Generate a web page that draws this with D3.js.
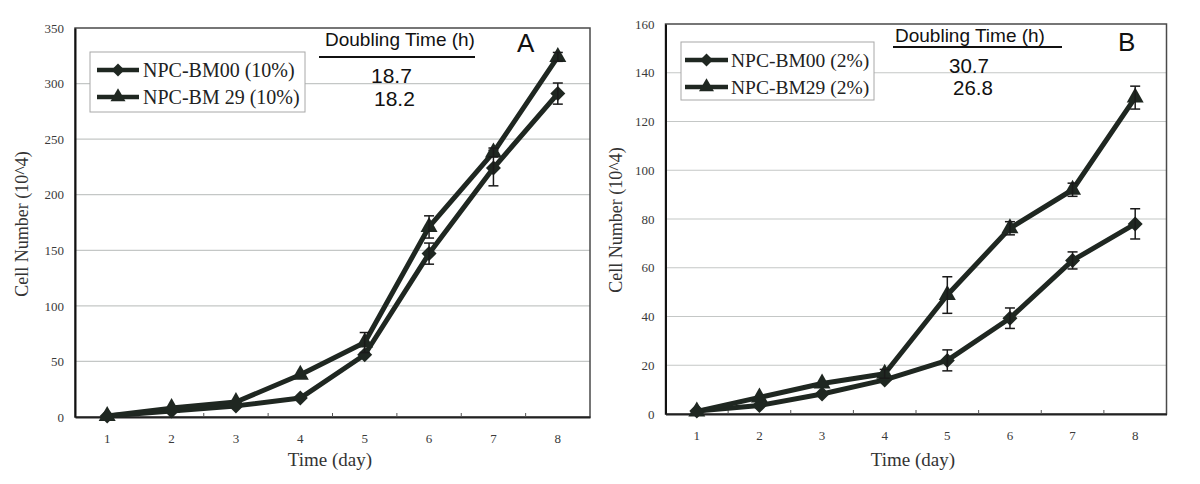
<!DOCTYPE html>
<html>
<head>
<meta charset="utf-8">
<script src="https://cdn.jsdelivr.net/npm/d3@7"></script>
<style>
  html, body { margin: 0; padding: 0; background: #fff; }
  svg { display: block; }
</style>
</head>
<body>
<svg id="chart" width="1200" height="484"></svg>
<script>
// ---------- DATA ----------
const days = [1, 2, 3, 4, 5, 6, 7, 8];

// Panel A (10%)
const aBM00 = [1, 5.5, 10, 17, 56, 147, 224, 291];
const aBM00Err = [0.5, 1, 1, 1.5, 2, 9.5, 16, 9.5];
const aBM29 = [1, 8, 13.5, 38, 67, 171, 238, 324];
const aBM29Err = [0.5, 1, 1.5, 2, 9, 10, 4, 4];
const aYTicks = [0, 50, 100, 150, 200, 250, 300, 350];
const aLegend = ["NPC-BM00 (10%)", "NPC-BM 29 (10%)"];
const aDoubling = ["18.7", "18.2"];

// Panel B (2%)
const bBM00 = [1.2, 3.5, 8.2, 14, 22, 39.3, 63, 78];
const bBM00Err = [0.3, 0.5, 1, 1, 4.3, 4.2, 3.5, 6.2];
const bBM29 = [1, 6.8, 12.5, 16.5, 48.8, 76.2, 92, 129.8];
const bBM29Err = [0.3, 0.8, 1, 1.8, 7.5, 2.7, 2.7, 4.7];
const bYTicks = [0, 20, 40, 60, 80, 100, 120, 140, 160];
const bLegend = ["NPC-BM00 (2%)", "NPC-BM29 (2%)"];
const bDoubling = ["30.7", "26.8"];

const xTitle = "Time (day)";
const yTitle = "Cell Number (10^4)";
const doublingTitle = "Doubling Time (h)";

// ---------- DRAW ----------
const svg = d3.select("#chart");
const INK = "#1f2721";
const SERIF = "'Liberation Serif', 'Times New Roman', serif";
const SANS = "'Liberation Sans', Arial, sans-serif";

function diamondPath(r) {
  return `M0,${-r}L${r},0L0,${r}L${-r},0Z`;
}
function trianglePath(w, h) {
  // centroid at origin
  return `M0,${-h * 2 / 3}L${w / 2},${h / 3}L${-w / 2},${h / 3}Z`;
}

function drawPanel(p) {
  const g = svg.append("g");
  const x = d3.scaleBand().domain(days).range([p.left, p.right]);
  const y = d3.scaleLinear().domain([0, p.yMax]).range([p.bottom, p.top]);
  const cx = d => x(d) + x.bandwidth() / 2;

  // gridlines
  g.append("g").selectAll("line").data(p.yTicks.filter(t => t > 0 && t < p.yMax)).join("line")
    .attr("x1", p.left).attr("x2", p.right)
    .attr("y1", d => y(d)).attr("y2", d => y(d))
    .attr("stroke", "#c4c7c6").attr("stroke-width", 1.2);

  // frame
  g.append("rect")
    .attr("x", p.left).attr("y", p.top)
    .attr("width", p.right - p.left).attr("height", p.bottom - p.top)
    .attr("fill", "none").attr("stroke", "#4a4a4a").attr("stroke-width", 1.5);

  // left axis
  const yAxis = d3.axisLeft(y).tickValues(p.yTicks).tickSize(0).tickPadding(11);
  const ya = g.append("g").attr("transform", `translate(${p.left},0)`).call(yAxis);
  ya.select(".domain").attr("stroke", "#111").attr("stroke-width", 2);
  ya.selectAll("text").attr("font-family", SERIF).attr("font-size", 13).attr("fill", "#3a3a3a");

  // bottom axis
  const xAxis = d3.axisBottom(x).tickSize(0).tickPadding(17);
  const xa = g.append("g").attr("transform", `translate(0,${p.bottom})`).call(xAxis);
  xa.select(".domain").attr("stroke", "#222").attr("stroke-width", 2);
  xa.selectAll("text").attr("font-family", SERIF).attr("font-size", 13).attr("fill", "#3a3a3a");
  // inside tick marks at band boundaries
  g.append("g").selectAll("line").data(days.slice(1)).join("line")
    .attr("x1", d => x(d)).attr("x2", d => x(d))
    .attr("y1", p.bottom).attr("y2", p.bottom - 4)
    .attr("stroke", "#555").attr("stroke-width", 1);

  // axis titles
  g.append("text").attr("x", p.xTitleX).attr("y", p.xTitleY)
    .attr("text-anchor", "middle").attr("font-family", SERIF).attr("font-size", 19)
    .attr("fill", "#333").text(xTitle);
  g.append("text")
    .attr("transform", `translate(${p.yTitleX},${p.yTitleY}) rotate(-90)`)
    .attr("text-anchor", "middle").attr("font-family", SERIF).attr("font-size", 18)
    .attr("fill", "#333").text(yTitle);

  const line = d3.line().x((d, i) => cx(days[i])).y(d => y(d));

  p.series.forEach(s => {
    g.append("path").datum(s.values).attr("d", line)
      .attr("fill", "none").attr("stroke", INK).attr("stroke-width", 5)
      .attr("stroke-linejoin", "round");
  });

  p.series.forEach(s => {
    // markers
    g.append("g").selectAll("path").data(s.values).join("path")
      .attr("transform", (d, i) => `translate(${cx(days[i])},${y(d)})`)
      .attr("d", s.shape === "diamond" ? diamondPath(7.5) : trianglePath(17, 15))
      .attr("fill", INK);
    // error bars
    const eb = g.append("g").attr("stroke", "#1a1a1a").attr("stroke-width", 1.5);
    s.values.forEach((v, i) => {
      const e = s.err[i];
      if (e < 1.5 * (p.yMax / 160)) return;
      const xx = cx(days[i]);
      eb.append("line").attr("x1", xx).attr("x2", xx).attr("y1", y(v - e)).attr("y2", y(v + e));
      eb.append("line").attr("x1", xx - 5).attr("x2", xx + 5).attr("y1", y(v - e)).attr("y2", y(v - e));
      eb.append("line").attr("x1", xx - 5).attr("x2", xx + 5).attr("y1", y(v + e)).attr("y2", y(v + e));
    });
  });

  // legend
  const L = p.legend;
  g.append("rect").attr("x", L.x).attr("y", L.y).attr("width", L.w).attr("height", L.h)
    .attr("fill", "#fff").attr("stroke", "#a8a8a8").attr("stroke-width", 1);
  p.series.forEach((s, i) => {
    const ly = L.rowY[i];
    g.append("line").attr("x1", L.lineX0).attr("x2", L.lineX1).attr("y1", ly).attr("y2", ly)
      .attr("stroke", INK).attr("stroke-width", 4.5);
    g.append("path")
      .attr("transform", `translate(${(L.lineX0 + L.lineX1) / 2},${ly})`)
      .attr("d", s.shape === "diamond" ? diamondPath(6.5) : trianglePath(15, 13))
      .attr("fill", INK);
    g.append("text").attr("x", L.textX).attr("y", ly + 7)
      .attr("font-family", SERIF).attr("font-size", L.fontSize).attr("fill", "#222")
      .text(s.name);
  });

  // doubling time annotation
  const D = p.doubling;
  g.append("text").attr("x", D.titleX).attr("y", D.titleY)
    .attr("font-family", SANS).attr("font-size", 19).attr("fill", "#111").text(doublingTitle);
  g.append("line").attr("x1", D.ulX0).attr("x2", D.ulX1).attr("y1", D.ulY).attr("y2", D.ulY)
    .attr("stroke", "#111").attr("stroke-width", 1.8);
  D.values.forEach((v, i) => {
    g.append("text").attr("x", D.valX[i]).attr("y", D.valY[i])
      .attr("font-family", SANS).attr("font-size", D.valSize).attr("fill", "#111").text(v);
  });
  g.append("text").attr("x", D.letterX).attr("y", D.letterY)
    .attr("font-family", SANS).attr("font-size", 26).attr("fill", "#111").text(D.letter);
}

drawPanel({
  left: 75, right: 590, top: 28, bottom: 417, yMax: 350, yTicks: aYTicks,
  xTitleX: 330, xTitleY: 466, yTitleX: 28, yTitleY: 224,
  series: [
    { name: aLegend[0], values: aBM00, err: aBM00Err, shape: "diamond" },
    { name: aLegend[1], values: aBM29, err: aBM29Err, shape: "triangle" }
  ],
  legend: { x: 90, y: 52, w: 215, h: 60, rowY: [70, 97], lineX0: 97, lineX1: 139, textX: 143, fontSize: 20 },
  doubling: {
    titleX: 325, titleY: 46, ulX0: 319, ulX1: 475, ulY: 57,
    values: aDoubling, valX: [371, 374], valY: [83, 106], valSize: 21,
    letter: "A", letterX: 517, letterY: 52
  }
});

drawPanel({
  left: 665.5, right: 1166.5, top: 24, bottom: 414, yMax: 160, yTicks: bYTicks,
  xTitleX: 913, xTitleY: 466, yTitleX: 622, yTitleY: 220,
  series: [
    { name: bLegend[0], values: bBM00, err: bBM00Err, shape: "diamond" },
    { name: bLegend[1], values: bBM29, err: bBM29Err, shape: "triangle" }
  ],
  legend: { x: 681, y: 42, w: 193, h: 58, rowY: [60, 87], lineX0: 685, lineX1: 728, textX: 731, fontSize: 19.5 },
  doubling: {
    titleX: 895, titleY: 42, ulX0: 893, ulX1: 1062, ulY: 47,
    values: bDoubling, valX: [949, 953], valY: [73, 95], valSize: 20.5,
    letter: "B", letterX: 1118, letterY: 51
  }
});
</script>
</body>
</html>
